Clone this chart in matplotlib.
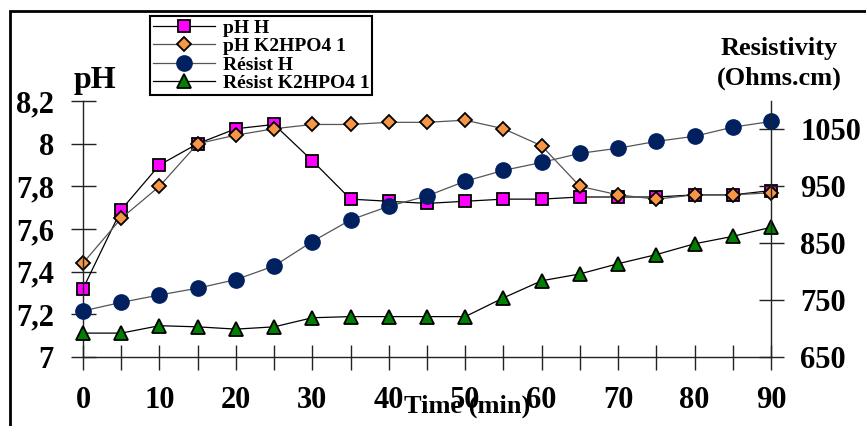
import matplotlib
matplotlib.use("Agg")
import matplotlib.pyplot as plt
from matplotlib.ticker import FuncFormatter, MultipleLocator
from matplotlib.patches import Rectangle

# Donnees
temps = [0, 5, 10, 15, 20, 25, 30, 35, 40, 45, 50, 55, 60, 65, 70, 75, 80, 85, 90]
ph_h = [7.32, 7.69, 7.90, 8.00, 8.07, 8.09, 7.92, 7.74, 7.73, 7.72, 7.73, 7.74,
        7.74, 7.75, 7.75, 7.75, 7.76, 7.76, 7.78]
ph_k2hpo4 = [7.44, 7.65, 7.80, 8.00, 8.04, 8.07, 8.09, 8.09, 8.10, 8.10, 8.11, 8.07,
             7.99, 7.80, 7.76, 7.74, 7.76, 7.76, 7.77]
resist_h = [731, 746, 759, 771, 786, 810, 853, 891, 915, 933, 959, 978,
            992, 1008, 1017, 1029, 1038, 1054, 1064]
resist_k2hpo4 = [692, 692, 705, 703, 699, 703, 719, 721, 721, 721, 721, 754,
                 784, 796, 814, 830, 849, 862, 878]

ph_ticks = [7, 7.2, 7.4, 7.6, 7.8, 8, 8.2]
resist_ticks = [650, 750, 850, 950, 1050]
temps_ticks = [0, 10, 20, 30, 40, 50, 60, 70, 80, 90]

plt.rcParams['font.family'] = ['Liberation Serif', 'DejaVu Serif']
plt.rcParams['font.weight'] = 'bold'

fig = plt.figure(figsize=(8.66, 4.26), dpi=100)
ax = fig.add_axes([83 / 866, 69 / 426, 688 / 866, 256 / 426])
ax2 = ax.twinx()

ax.plot(temps, ph_h, color='black', lw=0.9, marker='s', ms=9,
        mfc='#FF00FF', mec='black', mew=1.3, label='pH H', clip_on=False)
ax.plot(temps, ph_k2hpo4, color='#555555', lw=0.9, marker='D', ms=7.5,
        mfc='#F79646', mec='black', mew=1.3, label='pH K2HPO4 1', clip_on=False)
ax2.plot(temps, resist_h, color='#555555', lw=0.9, marker='o', ms=11,
         mfc='#002060', mec='#002060', label='Résist H', clip_on=False)
ax2.plot(temps, resist_k2hpo4, color='black', lw=0.9, marker='^', ms=10,
         mfc='#008000', mec='black', mew=1.3, label='Résist K2HPO4 1', clip_on=False)

ax.set_xlim(0, 90)
ax.set_ylim(7, 8.2)
ax2.set_ylim(650, 1100)

ax.set_xticks(temps_ticks)
ax.xaxis.set_minor_locator(MultipleLocator(5))
ax.set_yticks(ph_ticks)
ax2.set_yticks(resist_ticks)
ax.yaxis.set_major_formatter(FuncFormatter(lambda v, p: f"{v:g}".replace('.', ',')))

for a in (ax, ax2):
    for s in ('top',):
        a.spines[s].set_visible(False)
    for s in a.spines.values():
        s.set_color('#222222')
        s.set_linewidth(1.0)
ax.spines['right'].set_visible(False)
ax2.spines['left'].set_visible(False)
ax2.spines['bottom'].set_visible(False)
ax2.spines['right'].set_bounds(650, 1100)

ax.tick_params(axis='x', which='both', direction='inout', length=18, width=1,
               color='#222222', labelsize=22, pad=12)
ax.tick_params(axis='y', direction='inout', length=18, width=1,
               color='#222222', labelsize=22, pad=12)
ax2.tick_params(axis='y', direction='inout', length=18, width=1,
                color='#222222', labelsize=22, pad=12)

fig.text(74 / 866, 1 - 88 / 426, 'pH', fontsize=23, fontweight='bold',
         ha='left', va='baseline')
fig.text(779 / 866, 1 - 55 / 426, 'Resistivity', fontsize=19, fontweight='bold',
         ha='center', va='baseline')
fig.text(779 / 866, 1 - 85 / 426, '(Ohms.cm)', fontsize=19, fontweight='bold',
         ha='center', va='baseline')
fig.text(467 / 866, 13 / 426, 'Time (min)', fontsize=19, fontweight='bold',
         ha='center', va='baseline')

# Cadre exterieur (bords gauche et haut visibles)
fig.patches.append(Rectangle((10 / 866, -0.1), 1.2, 1.1 - 11 / 426,
                             transform=fig.transFigure, fill=False,
                             edgecolor='black', lw=2, zorder=0))

handles = ax.get_lines() + ax2.get_lines()
leg = fig.legend(handles, [h.get_label() for h in handles],
                 loc='upper left', bbox_to_anchor=(150 / 866, 1 - 16 / 426),
                 fontsize=14, labelspacing=0.05, handlelength=3.2,
                 handletextpad=0.4, borderpad=0.15, borderaxespad=0,
                 fancybox=False, framealpha=1, edgecolor='black',
                 prop={'weight': 'bold', 'size': 14})
leg.get_frame().set_linewidth(1.5)

fig.savefig('out.png', dpi=100)
